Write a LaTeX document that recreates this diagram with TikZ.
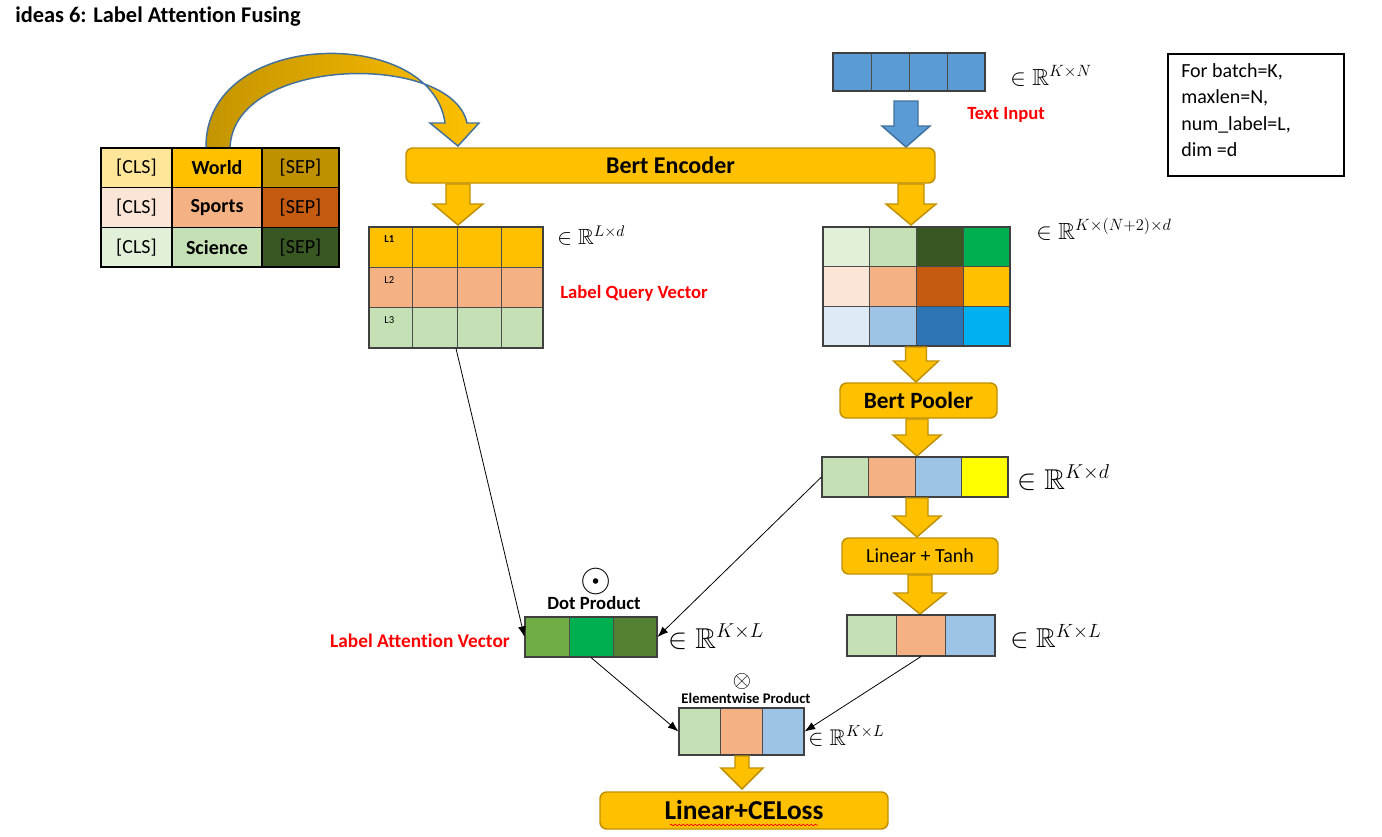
\RequirePackage{fix-cm}
\documentclass[tikz,border=0pt]{standalone}
\usepackage{amsmath}
\usepackage{amssymb}
\usepackage{fontspec}
\setmainfont{Carlito}[Ligatures=NoCommon]
\usetikzlibrary{fit,arrows.meta,decorations.pathmorphing}

\definecolor{gold}{HTML}{FFC000}
\definecolor{golddark}{HTML}{BF9000}
\definecolor{arcdark}{HTML}{C39400}
\definecolor{yellowlt}{HTML}{FFE699}
\definecolor{peachlt}{HTML}{FBE5D6}
\definecolor{peach}{HTML}{F4B183}
\definecolor{rust}{HTML}{C55A11}
\definecolor{greenlt}{HTML}{E2F0D9}
\definecolor{greenmd}{HTML}{C5E0B4}
\definecolor{greendk}{HTML}{385723}
\definecolor{greenbr}{HTML}{00B050}
\definecolor{greenol}{HTML}{70AD47}
\definecolor{greenmo}{HTML}{548235}
\definecolor{bluelt}{HTML}{DEEBF7}
\definecolor{bluemd}{HTML}{9DC3E6}
\definecolor{bluedk}{HTML}{2E75B6}
\definecolor{cyanbr}{HTML}{00B0F0}
\definecolor{blueinput}{HTML}{5B9BD5}
\definecolor{blueedge}{HTML}{41719C}
\definecolor{yellowbr}{HTML}{FFFF00}

\tikzset{
  cellline/.style={draw=black!70, line width=0.6pt},
  vec/.style={draw=black!75, line width=0.8pt, inner sep=0pt},
  tcell/.style={draw=black, line width=1.1pt, inner sep=0pt},
  ttext/.style={inner sep=0pt, font=\fontsize{15}{17}\selectfont},
  block/.style={fill=gold, draw=golddark, line width=1.1pt, rounded corners=5pt, inner sep=0pt},
  goldarrow/.style={fill=gold, draw=golddark, line width=1.1pt},
  bluearrow/.style={fill=blueinput, draw=blueedge, line width=1.1pt},
  link/.style={-{Latex[length=8pt,width=6pt]}, line width=0.6pt},
  dimtxt/.style={anchor=base west, inner sep=0pt},
  redtxt/.style={text=red, inner sep=0pt},
}

% a row of coloured cells: name, left, top, right, bottom, number of cells, colours
\newcommand{\cellrow}[7]{%
  \pgfmathsetmacro\cw{(#4-#2)/#6}
  \foreach \c [count=\i from 0] in {#7}
    \filldraw[fill=\c, cellline] ({#2+\i*\cw},#3) rectangle ({#2+\i*\cw+\cw},#5);
  \node[vec, fit={(#2,#3) (#4,#5)}] (#1) {};}

% block arrow pointing down: x, top, tip, shaft half width, head half width
\newcommand{\blockdown}[6][goldarrow]{%
  \filldraw[#1] (#2-#5,#3) -- (#2+#5,#3) -- (#2+#5,#4-21) -- (#2+#6,#4-21) -- (#2,#4)
    -- (#2-#6,#4-21) -- (#2-#5,#4-21) -- cycle;}

\begin{document}
\begin{tikzpicture}[x=0.75pt, y=-0.75pt]
\useasboundingbox (0,0) rectangle (1382,836);
\fill[white] (0,0) rectangle (1382,836);

\node[anchor=base west, inner sep=0pt, font=\bfseries\fontsize{16.8}{19}\selectfont] (title) at (15,22) {ideas 6: Label Attention Fusing};

% curved arrow from the label table to the encoder
\filldraw[draw=blueedge, line width=1.1pt, left color=arcdark, right color=gold]
  (206,148) .. controls (204,28) and (432,25) .. (445,123) -- (430,123) -- (458,146)
  -- (479,123) -- (467,123) .. controls (452,52) and (233,55) .. (230,148) -- cycle;

% label table
\foreach \word/\ca/\cb/\cc [count=\i from 0] in {World/yellowlt/gold/golddark,
    Sports/peachlt/peach/rust, Science/greenlt/greenmd/greendk}{
  \node[tcell, fill=\ca, fit={(101,148+\i*39.7) (172,187.7+\i*39.7)}] (cls\i) {};
  \node[tcell, fill=\cb, fit={(172,148+\i*39.7) (262,187.7+\i*39.7)}] (word\i) {};
  \node[tcell, fill=\cc, fit={(262,148+\i*39.7) (339,187.7+\i*39.7)}] (sep\i) {};
  \node[ttext] (cls-txt\i) at (cls\i) {[CLS]};
  \node[ttext, font=\bfseries\fontsize{15}{17}\selectfont] (word-txt\i) at (word\i) {\word};
  \node[ttext] (sep-txt\i) at (sep\i) {[SEP]};
}

% text input
\cellrow{inp}{833}{53}{985}{91}{4}{blueinput,blueinput,blueinput,blueinput}
\node[dimtxt, font=\fontsize{17.5}{20}\selectfont] (dim-inp) at (1010,85) {$\in\mathbb{R}^{K\times N}$};
\blockdown[bluearrow]{906}{101}{147}{12}{24}
\node[redtxt, anchor=base west, font=\bfseries\fontsize{14}{16}\selectfont] (txt-inp) at (967,119) {Text Input};

% settings box
\node[draw, line width=0.8pt, inner sep=0pt, fit={(1168,54) (1344,176)}] (info) {};
\node[anchor=north west, align=left, inner sep=0pt, font=\fontsize{15}{19.9}\selectfont] (info-txt) at (1181,63)
  {For batch=K,\\maxlen=N,\\num\_label=L,\\dim =d};

% encoder
\node[block, fit={(406,148) (935,183)}] (enc) {};
\node[inner sep=0pt, font=\bfseries\fontsize{18}{20}\selectfont] (enc-txt) at (enc) {Bert Encoder};
\blockdown{458}{184}{225}{12}{25}
\blockdown{911}{184}{225}{13}{25}

% label query vectors
\foreach \c [count=\i from 0] in {gold,peach,greenmd}
  \filldraw[fill=\c, cellline] (369,227+\i*40.3) rectangle (543,267.3+\i*40.3);
\foreach \x in {412,457,501}
  \draw[cellline] (\x,227) -- (\x,348);
\node[vec, fit={(369,227) (543,348)}] (lq) {};
\node[anchor=base west, inner sep=0pt, font=\bfseries\fontsize{8}{9}\selectfont] (l1) at (384,242) {L1};
\node[anchor=base west, inner sep=0pt, font=\fontsize{8}{9}\selectfont] (l2) at (384,283) {L2};
\node[anchor=base west, inner sep=0pt, font=\fontsize{8}{9}\selectfont] (l3) at (384,323) {L3};
\node[dimtxt, font=\fontsize{16.5}{19}\selectfont] (dim-lq) at (557,244) {$\in\mathbb{R}^{L\times d}$};
\node[redtxt, anchor=base west, font=\bfseries\fontsize{14}{16}\selectfont] (txt-lq) at (560,298) {Label Query Vector};

% hidden states
\foreach \row [count=\j from 0] in {{greenlt,greenmd,greendk,greenbr},{peachlt,peach,rust,gold},{bluelt,bluemd,bluedk,cyanbr}}
  \foreach \c [count=\i from 0] in \row
    \filldraw[fill=\c, cellline] (823+\i*46.75,227+\j*39.7) rectangle (869.75+\i*46.75,266.7+\j*39.7);
\node[vec, fit={(823,227) (1010,346)}] (hid) {};
\node[dimtxt, font=\fontsize{17.5}{20}\selectfont] (dim-hid) at (1036,239) {$\in\mathbb{R}^{K\times(N+2)\times d}$};
\blockdown{916}{347}{382}{10.5}{22.5}

% pooler
\node[block, fit={(840,383) (997,418)}] (pool) {};
\node[inner sep=0pt, font=\bfseries\fontsize{17.5}{20}\selectfont] (pool-txt) at (pool) {Bert Pooler};
\blockdown{917}{419}{456}{11}{24}
\cellrow{kd}{822}{457}{1008}{497}{4}{greenmd,peach,bluemd,yellowbr}
\node[dimtxt, font=\fontsize{21.5}{24}\selectfont] (dim-kd) at (1017,489) {$\in\mathbb{R}^{K\times d}$};
\blockdown{917}{498}{537}{11}{24}
\node[block, fit={(842,538) (998,574)}] (lin) {};
\node[inner sep=0pt, font=\fontsize{15}{17}\selectfont] (lin-txt) at (lin) {Linear + Tanh};
\blockdown{920}{575}{614}{12}{26}
\cellrow{kl}{847}{615}{995}{656}{3}{greenmd,peach,bluemd}
\node[dimtxt, font=\fontsize{20.5}{23}\selectfont] (dim-kl) at (1010,647) {$\in\mathbb{R}^{K\times L}$};

% label attention
\cellrow{dp}{525}{617}{657}{657}{3}{greenol,greenbr,greenmo}
\node[font=\fontsize{30}{32}\selectfont, inner sep=0pt] (odot) at (596,581) {$\odot$};
\node[anchor=base, inner sep=0pt, font=\bfseries\fontsize{14}{16}\selectfont] (txt-dp) at (594,609) {Dot Product};
\node[redtxt, anchor=base east, font=\bfseries\fontsize{14.5}{16}\selectfont] (txt-att) at (510,647) {Label Attention Vector};
\node[dimtxt, font=\fontsize{21.5}{24}\selectfont] (dim-dp) at (668,648) {$\in\mathbb{R}^{K\times L}$};

% elementwise product
\cellrow{ew}{679}{708}{804}{755}{3}{greenmd,peach,bluemd}
\node[font=\fontsize{18}{20}\selectfont, inner sep=0pt] (otimes) at (742,681) {$\otimes$};
\node[anchor=base, inner sep=0pt, font=\bfseries\fontsize{11}{13}\selectfont] (txt-ew) at (746,703) {Elementwise Product};
\node[dimtxt, font=\fontsize{17}{20}\selectfont] (dim-ew) at (808,745) {$\in\mathbb{R}^{K\times L}$};
\blockdown{742}{756}{789}{7}{21}

% loss
\node[block, fit={(600,792) (888,829)}] (loss) {};
\node[anchor=base, inner sep=0pt, font=\bfseries\fontsize{20.5}{23}\selectfont] (loss-txt) at (744,819) {Linear+CELoss};
\draw[red, line width=0.5pt, decorate, decoration={snake, amplitude=0.6pt, segment length=3pt}]
  (670,825) -- (818,825);

% connectors
\draw[link] (lq.south) -- (dp.west);
\draw[link] (kd.west) -- (dp.east);
\draw[link] (dp.south) -- (ew.west);
\draw[link] (kl.south) -- (ew.east);
\end{tikzpicture}
\end{document}
